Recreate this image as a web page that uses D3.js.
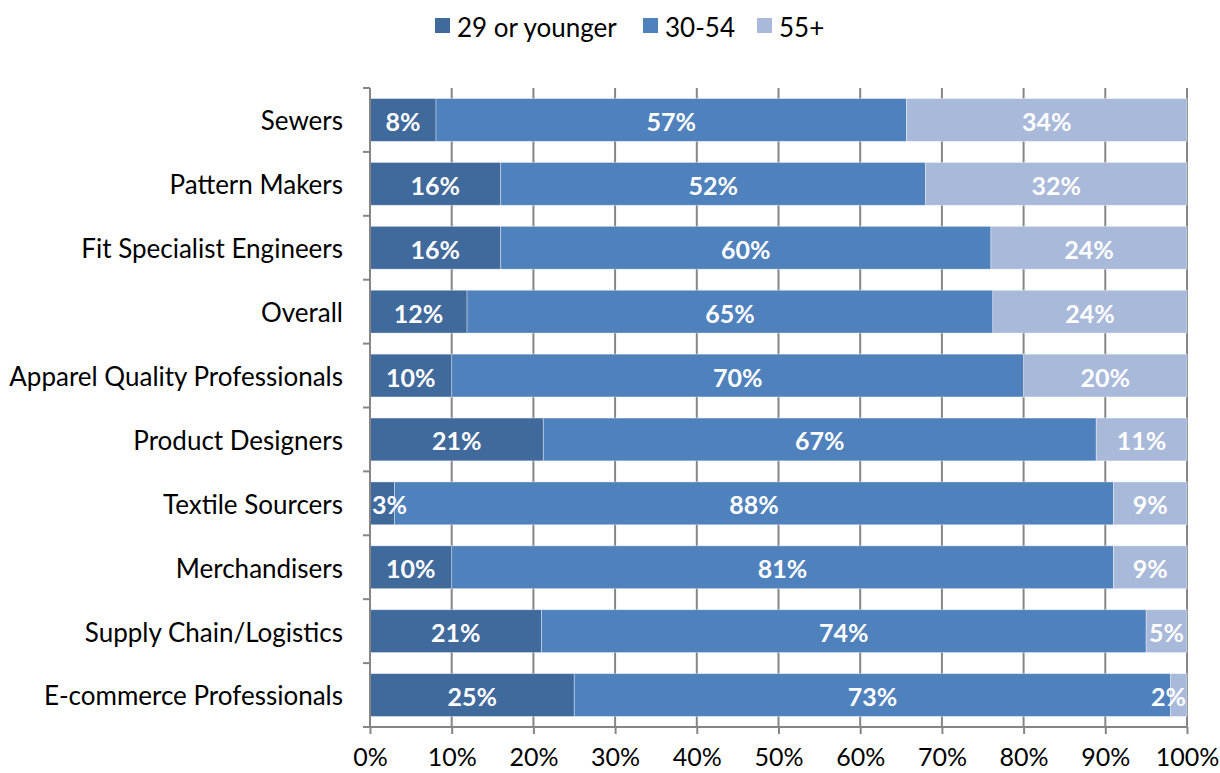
<!DOCTYPE html>
<html>
<head>
<meta charset="utf-8">
<script src="https://cdn.jsdelivr.net/npm/d3@7"></script>
<style>
  html, body { margin: 0; padding: 0; background: #fff; }
  svg { display: block; font-family: Lato, "Open Sans", "Liberation Sans", sans-serif; }
</style>
</head>
<body>
<svg id="chart" width="1220" height="773"></svg>
<script>
// Age distribution by occupation (percent of respondents)
const categories = [
  "Sewers", "Pattern Makers", "Fit Specialist Engineers", "Overall",
  "Apparel Quality Professionals", "Product Designers", "Textile Sourcers",
  "Merchandisers", "Supply Chain/Logistics", "E-commerce Professionals"
];
const seriesNames = ["29 or younger", "30-54", "55+"];
const age29orYounger = [8, 16, 16, 12, 10, 21, 3, 10, 21, 25];
const age30to54      = [57, 52, 60, 65, 70, 67, 88, 81, 74, 73];
const age55plus      = [34, 32, 24, 24, 20, 11, 9, 9, 5, 2];
const xTicks = [0, 0.1, 0.2, 0.3, 0.4, 0.5, 0.6, 0.7, 0.8, 0.9, 1.0];

const colors = ["#40699C", "#4F81BD", "#A9B9DA"];

const svg = d3.select("#chart");
const plotLeft = 370, plotRight = 1187, plotTop = 88, plotBottom = 727;

// Rows of raw values, normalised so each bar fills 100%
const rows = categories.map((c, i) => {
  const vals = [age29orYounger[i], age30to54[i], age55plus[i]];
  const total = d3.sum(vals);
  const r = { category: c };
  seriesNames.forEach((s, k) => { r[s] = vals[k] / total; r[s + "_label"] = vals[k]; });
  return r;
});

const stack = d3.stack().keys(seriesNames);
const layers = stack(rows);

const x = d3.scaleLinear().domain([0, 1]).range([plotLeft, plotRight]);
const y = d3.scaleBand().domain(categories).range([plotTop, plotBottom]).paddingInner(0.33).paddingOuter(0.165);
const yOuter = d3.scaleBand().domain(categories).range([plotTop, plotBottom]);

// Vertical gridlines
svg.append("g")
  .selectAll("line")
  .data(xTicks.slice(1))
  .join("line")
  .attr("x1", d => x(d)).attr("x2", d => x(d))
  .attr("y1", plotTop).attr("y2", plotBottom)
  .attr("stroke", "#868686").attr("stroke-width", 2);

// Bars
const g = svg.append("g");
layers.forEach((layer, k) => {
  g.append("g")
    .selectAll("rect")
    .data(layer)
    .join("rect")
    .attr("x", d => x(d[0]))
    .attr("width", d => x(d[1]) - x(d[0]))
    .attr("y", d => y(d.data.category))
    .attr("height", y.bandwidth())
    .attr("fill", colors[k])
    .attr("stroke", "rgba(255,255,255,0.45)")
    .attr("stroke-width", 0.8);
});

// Segment value labels, kept inside the plot area
layers.forEach((layer, k) => {
  g.append("g")
    .selectAll("text")
    .data(layer)
    .join("text")
    .attr("x", d => (x(d[0]) + x(d[1])) / 2)
    .attr("y", d => y(d.data.category) + y.bandwidth() / 2 + 2)
    .attr("dy", "0.36em")
    .attr("text-anchor", "middle")
    .attr("fill", "#fff")
    .attr("font-weight", "bold")
    .attr("font-size", 25)
    .text(d => d.data[seriesNames[k] + "_label"] + "%")
    .each(function(d) {
      const w = this.getComputedTextLength();
      let cx = (x(d[0]) + x(d[1])) / 2;
      cx = Math.max(cx, plotLeft + 2 + w / 2);
      cx = Math.min(cx, plotRight - 1 - w / 2);
      d3.select(this).attr("x", cx);
    });
});

// Bottom axis
const xAxis = d3.axisBottom(x).tickValues(xTicks).tickFormat(d3.format(".0%")).tickSizeOuter(0).tickSize(7).tickPadding(14);
const gx = svg.append("g").attr("transform", `translate(0,${plotBottom})`).call(xAxis);
gx.select(".domain").attr("stroke", "#868686").attr("stroke-width", 2).attr("d", `M${plotLeft - 7},0H${plotRight}`);
gx.selectAll(".tick line").attr("stroke", "#868686").attr("stroke-width", 2);
gx.selectAll(".tick text").attr("font-size", 25).attr("fill", "#000").attr("font-family", "Lato, 'Open Sans', sans-serif");

// Left axis: line with tick marks between categories
const gy = svg.append("g");
gy.append("line").attr("x1", plotLeft).attr("x2", plotLeft).attr("y1", plotTop).attr("y2", plotBottom)
  .attr("stroke", "#868686").attr("stroke-width", 2);
gy.selectAll("line.tk")
  .data(categories)
  .join("line")
  .attr("class", "tk")
  .attr("x1", plotLeft - 7).attr("x2", plotLeft)
  .attr("y1", d => yOuter(d)).attr("y2", d => yOuter(d))
  .attr("stroke", "#868686").attr("stroke-width", 2);
gy.selectAll("text")
  .data(categories)
  .join("text")
  .attr("x", plotLeft - 27)
  .attr("y", d => yOuter(d) + yOuter.bandwidth() / 2 + 1)
  .attr("dy", "0.36em")
  .attr("text-anchor", "end")
  .attr("font-size", 26)
  .attr("fill", "#000")
  .text(d => d);

// Legend
const legendX = [435, 643, 757];
const legend = svg.append("g");
seriesNames.forEach((s, k) => {
  legend.append("rect").attr("x", legendX[k]).attr("y", 18).attr("width", 15).attr("height", 15).attr("fill", colors[k]);
  legend.append("text").attr("x", legendX[k] + 22).attr("y", 28).attr("dy", "0.36em")
    .attr("font-size", 26).attr("fill", "#000").text(s);
});
</script>
</body>
</html>
